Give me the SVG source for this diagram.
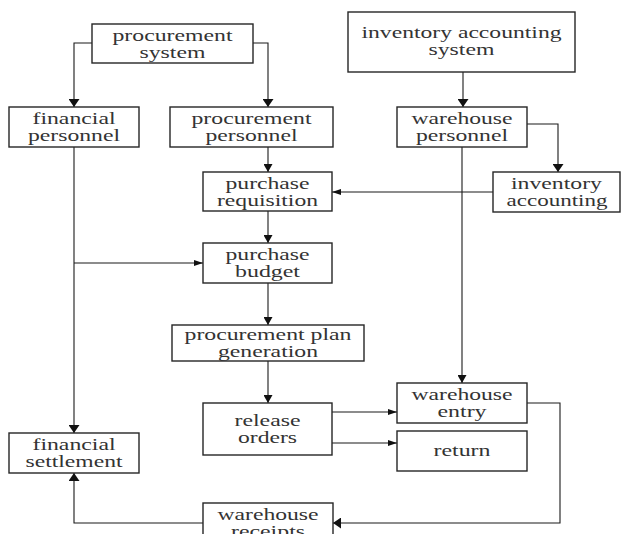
<svg xmlns="http://www.w3.org/2000/svg" width="622" height="534" viewBox="0 0 622 534">
<style>
.box{fill:#fff;stroke:#262626;stroke-width:1.4}
.t{font-size:16px;fill:#333;text-anchor:middle}
.c{fill:none;stroke:#1a1a1a;stroke-width:1.1}
</style>
<defs>
<marker id="big" markerUnits="userSpaceOnUse" markerWidth="8" markerHeight="11" viewBox="0 0 8 11" refX="8" refY="5.5" orient="auto"><path d="M0,0 L8,5.5 L0,11 z" fill="#111"/></marker>
<marker id="sm" markerUnits="userSpaceOnUse" markerWidth="8" markerHeight="9" viewBox="0 0 8 9" refX="8" refY="4.5" orient="auto"><path d="M0,0 L8,4.5 L0,9 z" fill="#111"/></marker>
<marker id="hz" markerUnits="userSpaceOnUse" markerWidth="9" markerHeight="6" viewBox="0 0 9 6" refX="9" refY="3" orient="auto"><path d="M0,0 L9,3 L0,6 z" fill="#111"/></marker>
</defs>
<rect width="622" height="534" fill="#fff"/>
<g id="connectors">
<path class="c" d="M92,43 H74 V107" marker-end="url(#big)"/>
<path class="c" d="M253,43 H268 V107" marker-end="url(#big)"/>
<path class="c" d="M463,72 V107" marker-end="url(#big)"/>
<path class="c" d="M527,124 H558 V172" marker-end="url(#big)"/>
<path class="c" d="M268,147 V172" marker-end="url(#sm)"/>
<path class="c" d="M493,192 H332" marker-end="url(#hz)"/>
<path class="c" d="M268,211 V243" marker-end="url(#sm)"/>
<path class="c" d="M74,147 V433" marker-end="url(#big)"/>
<path class="c" d="M74,263 H203" marker-end="url(#hz)"/>
<path class="c" d="M268,283 V325" marker-end="url(#sm)"/>
<path class="c" d="M268,361 V403" marker-end="url(#sm)"/>
<path class="c" d="M462,147 V383" marker-end="url(#sm)"/>
<path class="c" d="M332,412 H397" marker-end="url(#hz)"/>
<path class="c" d="M332,443 H397" marker-end="url(#hz)"/>
<path class="c" d="M527,403 H560 V523 H333" marker-end="url(#big)"/>
<path class="c" d="M203,523 H74 V473" marker-end="url(#big)"/>
</g>
<g font-family="Liberation Serif, Times New Roman, DejaVu Serif, serif">
<g id="procurement-system"><rect class="box" x="92" y="24" width="161" height="39"/><text class="t" x="172.5" y="41" textLength="120" lengthAdjust="spacingAndGlyphs">procurement</text><text class="t" x="172.5" y="58" textLength="66" lengthAdjust="spacingAndGlyphs">system</text></g>
<g id="inventory-accounting-system"><rect class="box" x="348" y="12" width="227" height="60"/><text class="t" x="461.5" y="38" textLength="200" lengthAdjust="spacingAndGlyphs">inventory accounting</text><text class="t" x="461.5" y="55" textLength="66" lengthAdjust="spacingAndGlyphs">system</text></g>
<g id="financial-personnel"><rect class="box" x="9" y="107" width="130" height="40"/><text class="t" x="74" y="124" textLength="83" lengthAdjust="spacingAndGlyphs">financial</text><text class="t" x="74" y="141" textLength="92" lengthAdjust="spacingAndGlyphs">personnel</text></g>
<g id="procurement-personnel"><rect class="box" x="170" y="107" width="163" height="40"/><text class="t" x="251.5" y="124" textLength="120" lengthAdjust="spacingAndGlyphs">procurement</text><text class="t" x="251.5" y="141" textLength="92" lengthAdjust="spacingAndGlyphs">personnel</text></g>
<g id="warehouse-personnel"><rect class="box" x="397" y="107" width="130" height="40"/><text class="t" x="462" y="124" textLength="101" lengthAdjust="spacingAndGlyphs">warehouse</text><text class="t" x="462" y="141" textLength="92" lengthAdjust="spacingAndGlyphs">personnel</text></g>
<g id="inventory-accounting"><rect class="box" x="493" y="172" width="127" height="40"/><text class="t" x="556.5" y="189" textLength="91" lengthAdjust="spacingAndGlyphs">inventory</text><text class="t" x="557" y="206" textLength="101" lengthAdjust="spacingAndGlyphs">accounting</text></g>
<g id="purchase-requisition"><rect class="box" x="203" y="172" width="129" height="39"/><text class="t" x="267.5" y="189" textLength="84" lengthAdjust="spacingAndGlyphs">purchase</text><text class="t" x="267.5" y="206" textLength="101" lengthAdjust="spacingAndGlyphs">requisition</text></g>
<g id="purchase-budget"><rect class="box" x="203" y="243" width="129" height="40"/><text class="t" x="267.5" y="260" textLength="84" lengthAdjust="spacingAndGlyphs">purchase</text><text class="t" x="267.5" y="277" textLength="65" lengthAdjust="spacingAndGlyphs">budget</text></g>
<g id="procurement-plan-generation"><rect class="box" x="172" y="325" width="192" height="36"/><text class="t" x="268" y="340" textLength="167" lengthAdjust="spacingAndGlyphs">procurement plan</text><text class="t" x="268" y="357" textLength="100" lengthAdjust="spacingAndGlyphs">generation</text></g>
<g id="release-orders"><rect class="box" x="203" y="403" width="129" height="52"/><text class="t" x="267.5" y="426" textLength="66" lengthAdjust="spacingAndGlyphs">release</text><text class="t" x="267.5" y="443" textLength="59" lengthAdjust="spacingAndGlyphs">orders</text></g>
<g id="warehouse-entry"><rect class="box" x="397" y="383" width="130" height="40"/><text class="t" x="462" y="400" textLength="101" lengthAdjust="spacingAndGlyphs">warehouse</text><text class="t" x="462" y="417" textLength="49" lengthAdjust="spacingAndGlyphs">entry</text></g>
<g id="return"><rect class="box" x="397" y="431" width="130" height="40"/><text class="t" x="462" y="456" textLength="57" lengthAdjust="spacingAndGlyphs">return</text></g>
<g id="financial-settlement"><rect class="box" x="9" y="433" width="130" height="40"/><text class="t" x="74" y="450" textLength="83" lengthAdjust="spacingAndGlyphs">financial</text><text class="t" x="74" y="467" textLength="97" lengthAdjust="spacingAndGlyphs">settlement</text></g>
<g id="warehouse-receipts"><rect class="box" x="203" y="503" width="130" height="40"/><text class="t" x="268" y="520" textLength="101" lengthAdjust="spacingAndGlyphs">warehouse</text><text class="t" x="268" y="537" textLength="74" lengthAdjust="spacingAndGlyphs">receipts</text></g>
</g>
</svg>
